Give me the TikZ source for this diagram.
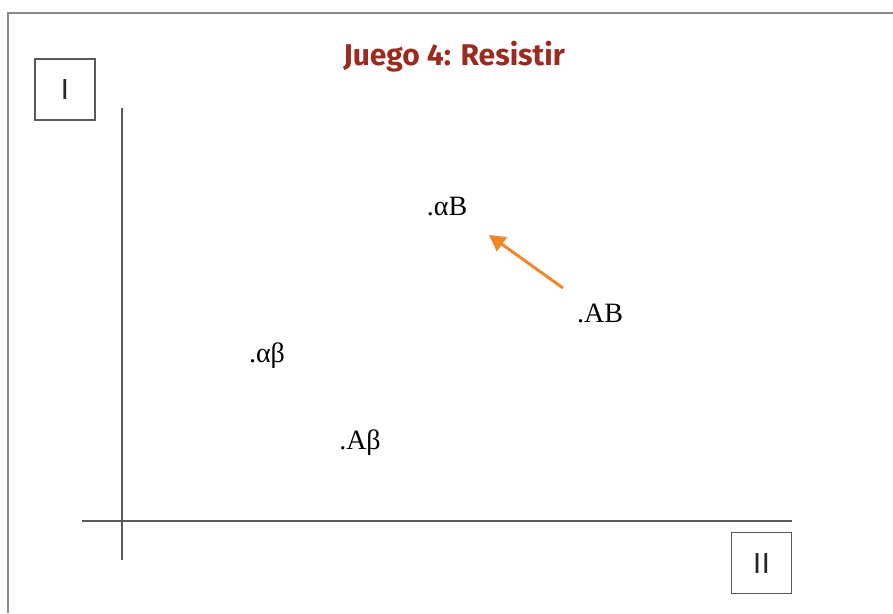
\documentclass[tikz,border=0pt]{standalone}
\usepackage{fontspec}
\setmainfont{Liberation Serif}
\newfontfamily\titlefont{Fira Sans}
\usetikzlibrary{arrows.meta}
\definecolor{titlered}{HTML}{9B2A1F}
\definecolor{framegray}{HTML}{8A8A8A}
\definecolor{axisgray}{HTML}{5A5A5A}
\definecolor{arroworange}{HTML}{F0872A}
\begin{document}
\begin{tikzpicture}[x=1pt,y=-1pt,
  axis/.style={draw=axisgray,line width=1.6pt},
  playerbox/.style={draw=axisgray,line width=1.6pt,minimum width=60pt,minimum height=61pt,inner sep=0pt,
    font=\titlefont\fontsize{29}{29}\selectfont,text=black!85},
  outcome/.style={inner sep=0pt,font=\fontsize{28}{28}\selectfont,text=black},
  move/.style={draw=arroworange,line width=3pt,-{Triangle[length=16pt,width=17pt]}}]
\useasboundingbox (0,0) rectangle (893,613);
% outer frame (top and left edges)
\draw[framegray,line width=2pt] (893,13) -- (8,13) -- (8,613);
% title
\node[inner sep=0pt,text=titlered,font=\titlefont\bfseries\fontsize{30}{30}\selectfont] (title) at (454,57) {Juego 4: Resistir};
% axes
\coordinate (ytop) at (122,108);
\coordinate (ybot) at (122,560);
\coordinate (xleft) at (82,521);
\coordinate (xright) at (792,521);
\draw[axis] (ytop) -- (ybot);
\draw[axis] (xleft) -- (xright);
% player boxes
\node[playerbox] (p1) at (65,89.5) {I};
\node[playerbox] (p2) at (761.5,563) {II};
% outcomes
\node[outcome] (aB) at (447,207) {.αB};
\node[outcome] (AB) at (600,313) {.AB};
\node[outcome] (ab) at (267,356) {.αβ};
\node[outcome] (Ab) at (360,443) {.Aβ};
% deviation
\coordinate (from) at (563,288);
\coordinate (to) at (489,235);
\draw[move] (from) -- (to);
\end{tikzpicture}
\end{document}
